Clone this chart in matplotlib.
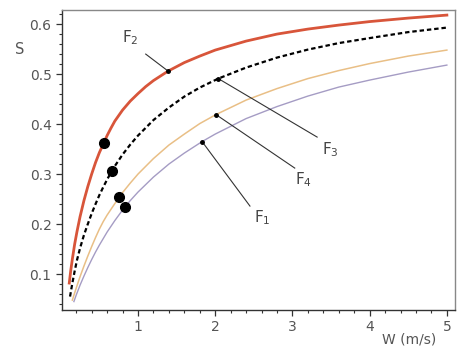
import matplotlib
matplotlib.use("Agg")
import matplotlib.pyplot as plt
from matplotlib.ticker import MultipleLocator

plt.rcParams["font.family"] = ["DejaVu Sans"]
plt.rcParams["mathtext.default"] = "regular"

# S versus wind speed W for four cases F1..F4
w_f2 = [0.11, 0.13, 0.15, 0.18, 0.21, 0.25, 0.30, 0.35, 0.40, 0.45, 0.50, 0.55, 0.60,
        0.65, 0.70, 0.80, 0.90, 1.00, 1.10, 1.20, 1.39, 1.60, 1.80, 2.00, 2.40, 2.80,
        3.20, 3.60, 4.00, 4.50, 5.00]
s_f2 = [0.082, 0.108, 0.130, 0.160, 0.185, 0.215, 0.247, 0.275, 0.300, 0.323, 0.343,
        0.360, 0.377, 0.392, 0.406, 0.428, 0.446, 0.461, 0.475, 0.487, 0.506, 0.523,
        0.536, 0.548, 0.566, 0.580, 0.590, 0.598, 0.605, 0.612, 0.618]

w_f3 = [0.12, 0.15, 0.18, 0.21, 0.25, 0.30, 0.35, 0.40, 0.45, 0.50, 0.55, 0.60, 0.66,
        0.70, 0.80, 0.90, 1.00, 1.20, 1.40, 1.60, 1.80, 2.04, 2.40, 2.80, 3.20, 3.60,
        4.00, 4.50, 5.00]
s_f3 = [0.055, 0.082, 0.106, 0.128, 0.152, 0.178, 0.200, 0.221, 0.240, 0.258, 0.274,
        0.289, 0.306, 0.316, 0.339, 0.359, 0.377, 0.408, 0.433, 0.455, 0.473, 0.491,
        0.513, 0.533, 0.549, 0.562, 0.572, 0.584, 0.593]

w_f4 = [0.15, 0.20, 0.25, 0.30, 0.35, 0.40, 0.45, 0.50, 0.55, 0.60, 0.70, 0.80, 0.90,
        1.00, 1.20, 1.40, 1.60, 1.80, 2.01, 2.40, 2.80, 3.20, 3.60, 4.00, 4.50, 5.00]
s_f4 = [0.048, 0.072, 0.095, 0.116, 0.136, 0.155, 0.173, 0.190, 0.205, 0.218, 0.241,
        0.263, 0.282, 0.300, 0.331, 0.358, 0.380, 0.401, 0.419, 0.448, 0.471, 0.491,
        0.507, 0.521, 0.536, 0.548]

w_f1 = [0.17, 0.20, 0.25, 0.30, 0.35, 0.40, 0.45, 0.50, 0.60, 0.70, 0.80, 0.90, 1.00,
        1.20, 1.40, 1.60, 1.83, 2.00, 2.40, 2.80, 3.20, 3.60, 4.00, 4.50, 5.00]
s_f1 = [0.045, 0.058, 0.078, 0.096, 0.113, 0.129, 0.144, 0.158, 0.184, 0.207, 0.228,
        0.247, 0.264, 0.294, 0.320, 0.342, 0.365, 0.380, 0.411, 0.435, 0.456, 0.474,
        0.488, 0.504, 0.518]

# highlighted operating points (one per curve)
dot_w = [0.56, 0.66, 0.76, 0.83]
dot_s = [0.363, 0.306, 0.254, 0.235]

# curve labels: anchor point on the curve, end of the leader line, label position
labels = ["$F_2$", "$F_3$", "$F_4$", "$F_1$"]
anchor_w = [1.39, 2.04, 2.01, 1.83]
anchor_s = [0.506, 0.491, 0.419, 0.365]
lead_w = [1.10, 3.32, 3.03, 2.45]
lead_s = [0.540, 0.374, 0.312, 0.236]
text_w = [0.90, 3.49, 3.15, 2.61]
text_s = [0.572, 0.348, 0.288, 0.212]

fig = plt.figure(figsize=(4.68, 3.48), dpi=100)
ax = fig.add_axes([0.1325, 0.109, 0.8395, 0.862])

ax.plot(w_f1, s_f1, color="#a59cc4", lw=1.0)
ax.plot(w_f4, s_f4, color="#e9bf86", lw=1.1)
ax.plot(w_f3, s_f3, color="black", lw=1.6, dashes=(2.0, 1.3))
ax.plot(w_f2, s_f2, color="#d8553a", lw=2.0)

ax.plot(dot_w, dot_s, "o", color="black", ms=7, zorder=5)

for lab, aw, as_, lw_, ls_, tw, ts in zip(labels, anchor_w, anchor_s, lead_w, lead_s,
                                         text_w, text_s):
    ax.plot([aw, lw_], [as_, ls_], color="#333333", lw=0.8, zorder=4)
    ax.plot([aw], [as_], "o", color="black", ms=2.5, zorder=6)
    ax.text(tw, ts, lab, fontsize=11, color="#444444", ha="center", va="center")

ax.set_xlim(0.016, 5.104)
ax.set_ylim(0.028, 0.628)
ax.set_xticks([1, 2, 3, 4, 5])
ax.set_yticks([0.1, 0.2, 0.3, 0.4, 0.5, 0.6])
ax.set_yticklabels(["0.1", "0.2", "0.3", "0.4", "0.5", "0.6"])
ax.xaxis.set_minor_locator(MultipleLocator(0.2))
ax.yaxis.set_minor_locator(MultipleLocator(0.02))
ax.tick_params(which="major", direction="out", length=4.5, width=0.9, color="#333333",
               labelsize=10, labelcolor="#555555", pad=3)
ax.tick_params(which="minor", direction="out", length=2.2, width=0.8, color="#333333")

for side in ("left", "bottom"):
    ax.spines[side].set_color("#333333")
    ax.spines[side].set_linewidth(1.0)
for side in ("top", "right"):
    ax.spines[side].set_color("#888888")
    ax.spines[side].set_linewidth(1.0)

fig.text(20 / 468, 1 - 50 / 348, "S", fontsize=10.5, color="#555555",
         ha="center", va="center")
fig.text(409 / 468, 1.5 / 348, "W (m/s)", fontsize=10, color="#555555",
         ha="center", va="bottom")

fig.savefig("out.png", dpi=100, facecolor="white")
